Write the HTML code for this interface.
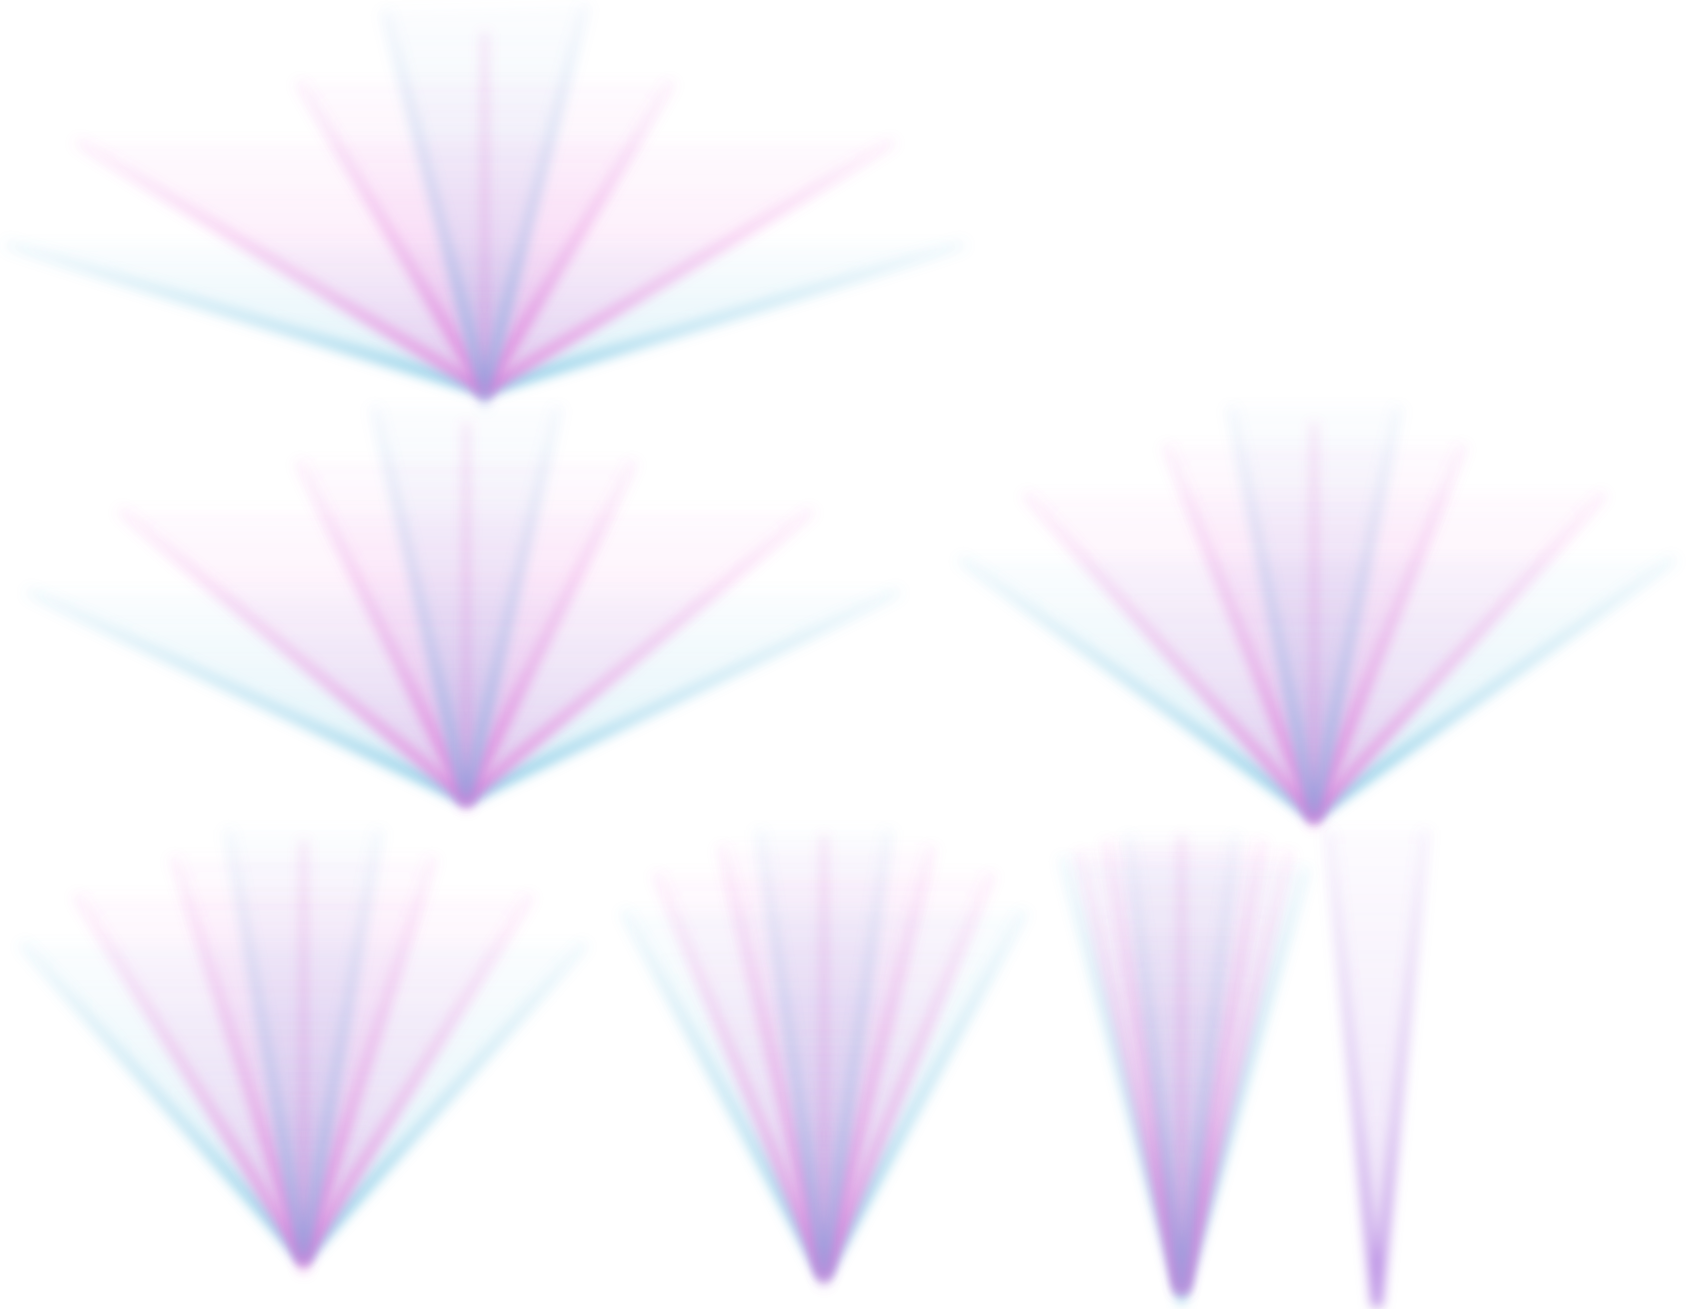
<!DOCTYPE html>
<html><head><meta charset="utf-8"><title>Fans</title>
<style>html,body{margin:0;padding:0;background:#fff;width:1700px;height:1309px;overflow:hidden}svg{display:block}</style>
</head><body>
<svg id="chart" width="1700" height="1309" viewBox="0 0 1568 1207" preserveAspectRatio="none" xmlns="http://www.w3.org/2000/svg">
<defs>
<filter id="blurE" filterUnits="userSpaceOnUse" x="0" y="0" width="1568" height="1207"><feGaussianBlur stdDeviation="5.5"/></filter>
<filter id="blurF" filterUnits="userSpaceOnUse" x="0" y="0" width="1568" height="1207"><feGaussianBlur stdDeviation="6"/></filter>
</defs>
<g id="layer"></g>
</svg>
<script>
const apexX = [447, 430, 1212, 280, 760, 1090, 1270];
const apexY = [360, 737, 752, 1160, 1175, 1190, 1205];
const tipX = [
 [5,70,275,355,447,540,620,825,890],
 [25,110,275,345,430,515,585,750,830],
 [885,945,1075,1135,1212,1290,1350,1480,1545],
 [20,70,160,210,280,350,400,490,540],
 [575,605,665,700,760,820,860,915,945],
 [980,995,1020,1040,1090,1140,1165,1190,1205],
 [1225,1315]
];
const tipY = [
 [225,130,75,10,30,5,75,130,225],
 [545,470,425,375,390,375,425,470,545],
 [515,455,410,375,390,375,410,455,515],
 [870,825,790,765,775,765,790,825,870],
 [840,805,780,765,770,765,780,805,840],
 [790,785,775,770,770,770,775,785,800],
 [765,765]
];
const levelColor = ['#6cc0e0','#e86fd8','#e070d8','#8ab0e0'];
const centerColor = '#d466d0';
const singleColor = '#b07ee0';

const NS='http://www.w3.org/2000/svg';
const layer=document.getElementById('layer');
const defs=document.querySelector('defs');
let gid=0;
function grad(ax,ay,topY,col,a0,a1){
  const gr=document.createElementNS(NS,'linearGradient');
  gr.id='g'+(gid++);
  gr.setAttribute('gradientUnits','userSpaceOnUse');
  gr.setAttribute('x1',ax);gr.setAttribute('y1',ay);gr.setAttribute('x2',ax);gr.setAttribute('y2',topY);
  gr.innerHTML='<stop offset="0" stop-color="'+col+'" stop-opacity="'+a0+'"/><stop offset="0.4" stop-color="'+col+'" stop-opacity="'+(a0*0.5)+'"/><stop offset="1" stop-color="'+col+'" stop-opacity="'+a1+'"/>';
  defs.appendChild(gr);
  return 'url(#'+gr.id+')';
}
apexX.forEach((ax,f)=>{
  const ay=apexY[f];
  const g=document.createElementNS(NS,'g');
  
  
  layer.appendChild(g);
  const xs=tipX[f], ys=tipY[f], n=xs.length;
  const levels=Math.floor(n/2);
  for(let i=0;i<levels;i++){
    const j=n-1-i;
    const col = n===2 ? singleColor : levelColor[i%levelColor.length];
    const topY=Math.min(ys[i],ys[j]);
    const pts=ax+','+ay+' '+xs[i]+','+ys[i]+' '+xs[j]+','+ys[j];
    const fill=document.createElementNS(NS,'polygon');
    
    
    fill.setAttribute('points',pts);
    fill.setAttribute('fill',grad(ax,ay,topY,col,0.3,0.03));
    fill.setAttribute('filter','url(#blurF)');
    g.appendChild(fill);
    const edge=document.createElementNS(NS,'path');
    
    
    edge.setAttribute('d','M'+xs[i]+','+ys[i]+' L'+ax+','+ay+' L'+xs[j]+','+ys[j]);
    edge.setAttribute('fill','none');
    edge.setAttribute('stroke',grad(ax,ay,topY,col,0.85,0.08));
    edge.setAttribute('stroke-width','9');
    edge.setAttribute('filter','url(#blurE)');
    g.appendChild(edge);
  }
  if(n%2===1){
    const c=Math.floor(n/2);
    const line=document.createElementNS(NS,'polygon');
    
    
    line.setAttribute('points',(ax-1)+','+ay+' '+(xs[c]-4)+','+ys[c]+' '+(xs[c]+4)+','+ys[c]+' '+(ax+1)+','+ay);
    line.setAttribute('fill',grad(ax,ay,ys[c],centerColor,0.8,0.15));
    line.setAttribute('filter','url(#blurE)');
    g.appendChild(line);
  }
});
</script>
</body></html>
